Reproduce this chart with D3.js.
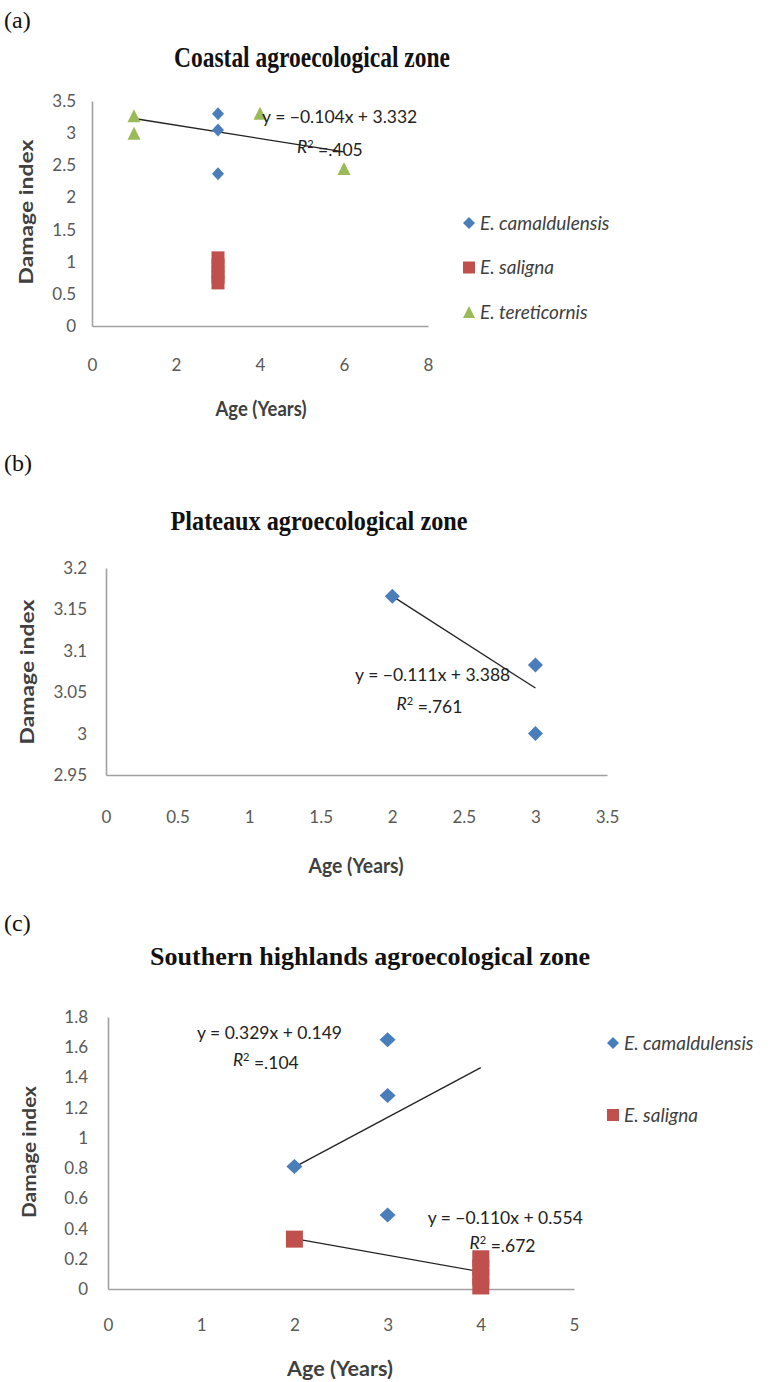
<!DOCTYPE html>
<html>
<head>
<meta charset="utf-8">
<script src="https://cdn.jsdelivr.net/npm/d3@7"></script>
<style>
body { margin: 0; background: #ffffff; }
</style>
</head>
<body>
<div id="cnt"></div>
<script>
// ---- Datos (a) zona costera
const costaEdadCam = [3, 3, 3];
const costaDanoCam = [3.3, 3.05, 2.37];
const costaEdadSal = [3, 3, 3, 3, 3];
const costaDanoSal = [1.06, 0.95, 0.85, 0.76, 0.67];
const costaEdadTer = [1, 1, 4, 6];
const costaDanoTer = [3.27, 3.0, 3.31, 2.45];
const costaAjuste = [-0.104, 3.332];
const costaAjusteRango = [1, 6];
const costaR2 = ".405";
const costaTicksX = [0, 2, 4, 6, 8];
const costaTicksY = [0, 0.5, 1, 1.5, 2, 2.5, 3, 3.5];

// ---- Datos (b) mesetas
const mesetaEdadCam = [2, 3, 3];
const mesetaDanoCam = [3.166, 3.083, 3.0];
const mesetaAjuste = [-0.111, 3.388];
const mesetaAjusteRango = [2, 3];
const mesetaR2 = ".761";
const mesetaTicksX = [0, 0.5, 1, 1.5, 2, 2.5, 3, 3.5];
const mesetaTicksY = [2.95, 3, 3.05, 3.1, 3.15, 3.2];

// ---- Datos (c) tierras altas del sur
const surEdadCam = [2, 3, 3, 3];
const surDanoCam = [0.81, 1.65, 1.28, 0.49];
const surEdadSal = [2, 4, 4, 4, 4];
const surDanoSal = [0.33, 0.2, 0.14, 0.08, 0.02];
const surAjusteCam = [0.329, 0.149];
const surAjusteCamRango = [2, 4];
const surR2Cam = ".104";
const surAjusteSal = [-0.110, 0.554];
const surAjusteSalRango = [2, 4];
const surR2Sal = ".672";
const surTicksX = [0, 1, 2, 3, 4, 5];
const surTicksY = [0, 0.2, 0.4, 0.6, 0.8, 1, 1.2, 1.4, 1.6, 1.8];

const especies = ["E. camaldulensis", "E. saligna", "E. tereticornis"];

// ---- Estilos
const ancho = 780, largo = 1382;
const azul = "#4a7ebb", rojo = "#c0504d", verde = "#9bbb59";
const fuenteNum = "Lato, 'Open Sans', sans-serif";
const fuenteTit = "'Liberation Serif', 'Times New Roman', serif";
const grisTexto = "#595959";

let svg = d3.select('#cnt')
    .append("svg")
    .attr('width', ancho)
    .attr('height', largo)
    .style('background', '#ffffff');

//Formas de los marcadores
function marca(tipo, w, h) {
    let p = d3.path();
    if (tipo == "diamante") {
        p.moveTo(0, -h / 2); p.lineTo(w / 2, 0); p.lineTo(0, h / 2); p.lineTo(-w / 2, 0); p.closePath();
    } else if (tipo == "cuadro") {
        p.rect(-w / 2, -h / 2, w, h);
    } else {
        p.moveTo(0, -h / 2); p.lineTo(w / 2, h / 2); p.lineTo(-w / 2, h / 2); p.closePath();
    }
    return p.toString();
}

function ecuacion(m, b) {
    let s = m < 0 ? "\u2212" + Math.abs(m).toFixed(3) : m.toFixed(3);
    return "y = " + s + "x + " + b.toFixed(3);
}

function panel(p) {
    let x = d3.scaleLinear().domain(p.domX).range(p.rangoX);
    let y = d3.scaleLinear().domain(p.domY).range(p.rangoY);

    //Letra del panel
    svg.append("text")
        .text(p.letra)
        .attr("x", 4).attr("y", p.letraY)
        .style("font-family", fuenteTit)
        .style("font-size", "24px")
        .attr("fill", "#111");

    //Titulo
    let t = svg.append("text")
        .text(p.titulo)
        .attr("x", p.tituloX).attr("y", p.tituloY)
        .attr("text-anchor", "middle")
        .style("font-family", fuenteTit)
        .style("font-weight", "bold")
        .style("font-size", p.tituloTam + "px")
        .attr("fill", "#111");
    if (p.tituloLargo) t.attr("textLength", p.tituloLargo).attr("lengthAdjust", "spacingAndGlyphs");

    //Ejes
    let gx = svg.append("g")
        .attr("transform", "translate(0," + p.rangoY[0] + ")")
        .call(d3.axisBottom(x).tickValues(p.ticksX).tickSize(0).tickPadding(p.padX).tickFormat(d => String(d)));
    let gy = svg.append("g")
        .attr("transform", "translate(" + p.rangoX[0] + ",0)")
        .call(d3.axisLeft(y).tickValues(p.ticksY).tickSize(0).tickPadding(p.padY).tickFormat(d => String(d)));
    [gx, gy].forEach(g => {
        g.select(".domain").attr("stroke", "#a0a0a0").attr("stroke-width", 1.6);
        g.selectAll("text")
            .attr("fill", grisTexto)
            .style("font-family", fuenteNum)
            .style("font-size", "17px");
    });

    //Titulos de ejes
    svg.append("text")
        .text("Age (Years)")
        .attr("x", p.edadX).attr("y", p.edadY)
        .attr("text-anchor", "middle")
        .attr("textLength", p.edadLargo).attr("lengthAdjust", "spacingAndGlyphs")
        .style("font-family", fuenteNum)
        .style("font-weight", "bold")
        .style("font-size", "20px")
        .attr("fill", "#404040");
    svg.append("text")
        .text("Damage index")
        .attr("transform", "translate(" + p.danoX + "," + p.danoY + ") rotate(-90)")
        .attr("text-anchor", "middle")
        .attr("textLength", p.danoLargo).attr("lengthAdjust", "spacingAndGlyphs")
        .style("font-family", fuenteNum)
        .style("font-weight", "bold")
        .style("font-size", "19px")
        .attr("fill", "#404040");

    //Lineas de tendencia
    p.ajustes.forEach(a => {
        let pts = a.rango.map(v => [v, a.coef[0] * v + a.coef[1]]);
        svg.append("path")
            .attr("d", d3.line().x(d => x(d[0])).y(d => y(d[1]))(pts))
            .attr("stroke", "#222")
            .attr("stroke-width", 1.3)
            .attr("fill", "none");
    });

    //Puntos
    p.series.forEach(s => {
        svg.append("g").selectAll("path")
            .data(d3.zip(s.edad, s.dano)).enter()
            .append("path")
            .attr("d", marca(s.forma, s.w, s.h))
            .attr("transform", d => "translate(" + x(d[0]) + "," + y(d[1]) + ")")
            .attr("fill", s.color);
    });

    //Ecuaciones
    p.ajustes.forEach(a => {
        svg.append("text")
            .text(ecuacion(a.coef[0], a.coef[1]))
            .attr("x", x(a.eq[0])).attr("y", y(a.eq[1]))
            .attr("dy", "0.35em")
            .style("font-family", fuenteNum)
            .style("font-size", "17.5px")
            .attr("fill", "#222");
        let r = svg.append("text")
            .attr("x", x(a.r2pos[0])).attr("y", y(a.r2pos[1]))
            .attr("dy", "0.35em")
            .style("font-family", fuenteNum)
            .style("font-size", "17.5px")
            .attr("fill", "#222");
        r.append("tspan").text("R").style("font-style", "italic");
        r.append("tspan").text("2").attr("dy", "-0.45em").style("font-size", "11px");
        r.append("tspan").text(" =" + a.r2).attr("dy", "0.45em");
    });

    //Leyenda
    p.leyenda.forEach((l, i) => {
        let ly = p.leyY + i * p.leyPaso;
        svg.append("path")
            .attr("d", marca(l.forma, 12, 12))
            .attr("transform", "translate(" + p.leyX + "," + ly + ")")
            .attr("fill", l.color);
        svg.append("text")
            .text(l.nombre)
            .attr("x", p.leyX + 11).attr("y", ly)
            .attr("dy", "0.35em")
            .style("font-family", fuenteNum)
            .style("font-style", "italic")
            .style("font-size", "19px")
            .attr("fill", "#404040");
    });
}

// (a)
panel({
    letra: "(a)", letraY: 28,
    titulo: "Coastal agroecological zone", tituloX: 312, tituloY: 67, tituloTam: 30, tituloLargo: 276,
    domX: [0, 8], rangoX: [92, 428], domY: [0, 3.5], rangoY: [326, 101],
    ticksX: costaTicksX, ticksY: costaTicksY, padX: 33, padY: 16,
    edadX: 261, edadY: 416, edadLargo: 91,
    danoX: 33, danoY: 212, danoLargo: 145,
    series: [
        { edad: costaEdadCam, dano: costaDanoCam, forma: "diamante", color: azul, w: 12, h: 13 },
        { edad: costaEdadSal, dano: costaDanoSal, forma: "cuadro", color: rojo, w: 13, h: 13 },
        { edad: costaEdadTer, dano: costaDanoTer, forma: "triangulo", color: verde, w: 13, h: 13 }
    ],
    ajustes: [
        { coef: costaAjuste, rango: costaAjusteRango, r2: costaR2, eq: [4.05, 3.25], r2pos: [4.88, 2.78] }
    ],
    leyenda: [
        { nombre: especies[0], forma: "diamante", color: azul },
        { nombre: especies[1], forma: "cuadro", color: rojo },
        { nombre: especies[2], forma: "triangulo", color: verde }
    ],
    leyX: 469, leyY: 223, leyPaso: 44.5
});

// (b)
panel({
    letra: "(b)", letraY: 471,
    titulo: "Plateaux agroecological zone", tituloX: 319, tituloY: 530, tituloTam: 27, tituloLargo: 297,
    domX: [0, 3.5], rangoX: [106, 607], domY: [2.95, 3.2], rangoY: [775, 568],
    ticksX: mesetaTicksX, ticksY: mesetaTicksY, padX: 36, padY: 19,
    edadX: 356, edadY: 873, edadLargo: 95,
    danoX: 34, danoY: 672, danoLargo: 145,
    series: [
        { edad: mesetaEdadCam, dano: mesetaDanoCam, forma: "diamante", color: azul, w: 15, h: 15 }
    ],
    ajustes: [
        { coef: mesetaAjuste, rango: mesetaAjusteRango, r2: mesetaR2, eq: [1.74, 3.0705], r2pos: [2.03, 3.0355] }
    ],
    leyenda: [],
    leyX: 0, leyY: 0, leyPaso: 0
});

// (c)
panel({
    letra: "(c)", letraY: 931,
    titulo: "Southern highlands agroecological zone", tituloX: 370, tituloY: 965, tituloTam: 26, tituloLargo: 440,
    domX: [0, 5], rangoX: [108, 574], domY: [0, 1.8], rangoY: [1289, 1017],
    ticksX: surTicksX, ticksY: surTicksY, padX: 30, padY: 20,
    edadX: 340, edadY: 1376, edadLargo: 106,
    danoX: 36, danoY: 1152, danoLargo: 132,
    series: [
        { edad: surEdadCam, dano: surDanoCam, forma: "diamante", color: azul, w: 16, h: 15 },
        { edad: surEdadSal, dano: surDanoSal, forma: "cuadro", color: rojo, w: 17, h: 17 }
    ],
    ajustes: [
        { coef: surAjusteCam, rango: surAjusteCamRango, r2: surR2Cam, eq: [0.955, 1.695], r2pos: [1.34, 1.517] },
        { coef: surAjusteSal, rango: surAjusteSalRango, r2: surR2Sal, eq: [3.43, 0.47], r2pos: [3.88, 0.305] }
    ],
    leyenda: [
        { nombre: especies[0], forma: "diamante", color: azul },
        { nombre: especies[1], forma: "cuadro", color: rojo }
    ],
    leyX: 613, leyY: 1043, leyPaso: 72
});
</script>
</body>
</html>
